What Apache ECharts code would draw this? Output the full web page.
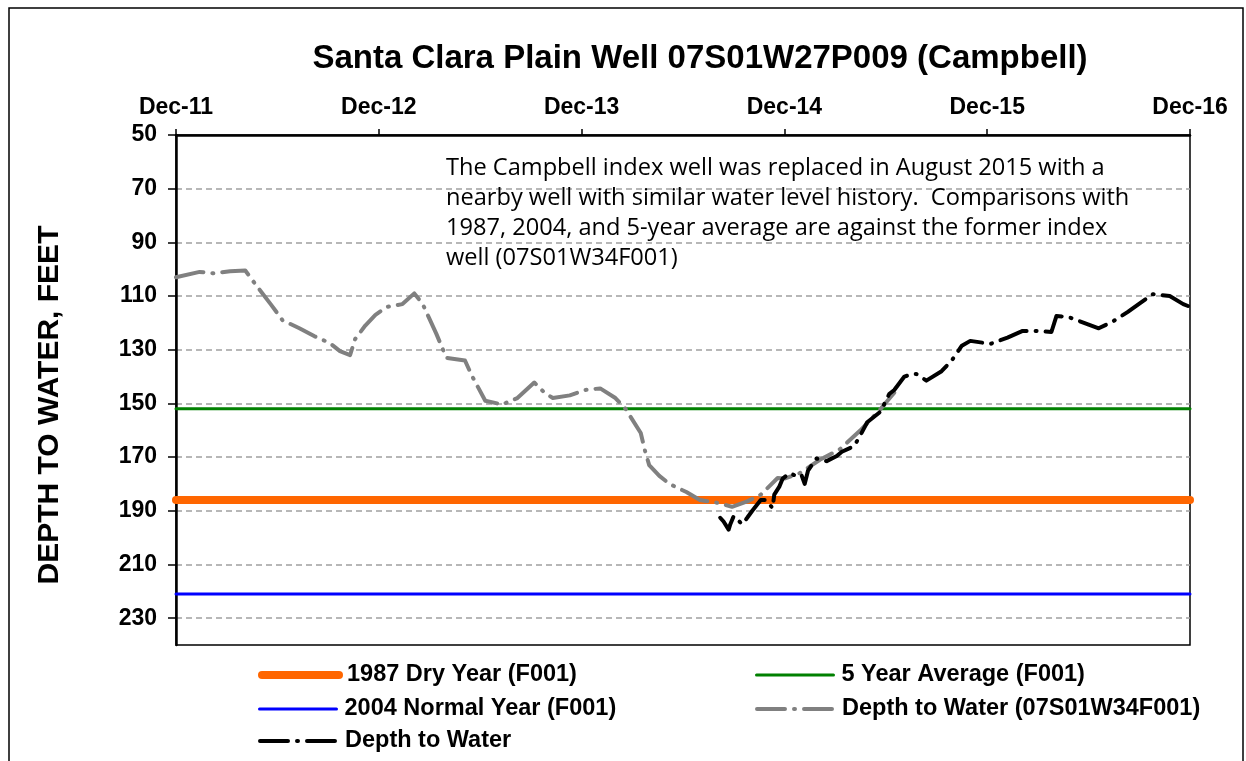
<!DOCTYPE html>
<html>
<head>
<meta charset="utf-8">
<title>Santa Clara Plain Well 07S01W27P009 (Campbell)</title>
<script src="https://cdn.jsdelivr.net/npm/echarts@6/dist/echarts.min.js"></script>
<style>
  html, body { margin: 0; padding: 0; background: #fff; }
  #chart { width: 1246px; height: 761px; }
</style>
</head>
<body>
<div id="chart"></div>
<script>
// Axis tick labels (one per December, starting Dec 2011)
const tickLabels = ['Dec-11', 'Dec-12', 'Dec-13', 'Dec-14', 'Dec-15', 'Dec-16'];
const depthTicks = [50, 70, 90, 110, 130, 150, 170, 190, 210, 230];

// Reference levels, depth in feet (former index well F001)
const dryYear1987 = 186;
const fiveYearAverage = 152;
const normalYear2004 = 221;

// Former index well 07S01W34F001: [date, depth to water (ft)]
const formerWell = [
  ['2011-12-01', 103], ['2012-01-13', 101], ['2012-02-07', 101.5], ['2012-03-07', 100.8],
  ['2012-04-04', 100.5], ['2012-04-22', 105.6], ['2012-05-19', 113], ['2012-06-10', 119],
  ['2012-07-10', 122], ['2012-08-07', 125], ['2012-09-04', 127.5], ['2012-09-22', 130.5],
  ['2012-10-10', 132], ['2012-10-19', 126], ['2012-11-07', 121], ['2012-11-25', 117],
  ['2012-12-16', 114], ['2013-01-13', 113], ['2013-02-04', 109], ['2013-02-19', 113],
  ['2013-03-01', 118.5], ['2013-03-13', 124], ['2013-04-01', 133], ['2013-05-04', 134],
  ['2013-05-16', 139.6], ['2013-06-10', 149], ['2013-07-10', 150.4], ['2013-08-07', 148],
  ['2013-09-07', 142.2], ['2013-09-25', 146], ['2013-10-10', 148], ['2013-11-10', 147],
  ['2013-12-07', 145], ['2014-01-04', 144.4], ['2014-02-01', 148], ['2014-02-19', 152],
  ['2014-03-16', 161], ['2014-03-24', 168], ['2014-04-01', 173], ['2014-04-19', 177],
  ['2014-05-07', 180], ['2014-06-07', 183], ['2014-07-01', 186], ['2014-08-01', 187],
  ['2014-08-28', 188.5], ['2014-09-25', 186.5], ['2014-10-19', 184], ['2014-11-19', 177.8],
  ['2014-12-01', 178], ['2014-12-28', 176], ['2015-02-04', 171], ['2015-03-10', 167],
  ['2015-04-16', 160], ['2015-05-22', 152], ['2015-06-16', 146]
];

// Current index well 07S01W27P009: [date, depth to water (ft)]
const currentWell = [
  ['2014-08-07', 192.6], ['2014-08-13', 194], ['2014-08-22', 197], ['2014-08-25', 195],
  ['2014-09-01', 192], ['2014-09-16', 195], ['2014-09-25', 192.6], ['2014-10-04', 190],
  ['2014-10-19', 186], ['2014-10-28', 186], ['2014-11-10', 189], ['2014-11-13', 184],
  ['2014-11-22', 181], ['2014-11-28', 178], ['2014-12-10', 176], ['2014-12-22', 177],
  ['2015-01-01', 176.5], ['2015-01-07', 180], ['2015-01-13', 175], ['2015-01-28', 170.5],
  ['2015-02-16', 171.5], ['2015-03-04', 169.6], ['2015-03-13', 168], ['2015-04-04', 166],
  ['2015-04-13', 163], ['2015-04-28', 157], ['2015-05-22', 153], ['2015-06-01', 149],
  ['2015-06-07', 146.5], ['2015-06-16', 145], ['2015-07-04', 140], ['2015-07-19', 139],
  ['2015-07-25', 139], ['2015-08-13', 141.5], ['2015-09-10', 138], ['2015-09-28', 134],
  ['2015-10-16', 128.5], ['2015-11-01', 126.7], ['2015-12-07', 127.8], ['2016-01-07', 125.5],
  ['2016-02-04', 123], ['2016-02-28', 123], ['2016-03-25', 123.4], ['2016-04-04', 117.4],
  ['2016-04-25', 117.8], ['2016-06-19', 122], ['2016-07-13', 119.6], ['2016-08-10', 116],
  ['2016-09-25', 109.3], ['2016-10-25', 110], ['2016-11-19', 113], ['2016-12-01', 114]
];

// Months elapsed since 1 Dec 2011, used as the x value
function monthsSinceStart(dateStr) {
  const [y, m, d] = dateStr.split('-').map(Number);
  return (y - 2011) * 12 + (m - 12) + (d - 1) / 30;
}
const toPoints = rows => rows.map(([date, depth]) => [monthsSinceStart(date), depth]);
const xMax = (tickLabels.length - 1) * 12;
const flatLine = level => [[0, level], [xMax, level]];

const boldFont = 'Liberation Sans, Arial, sans-serif';
const dashDot = [28, 9, 1, 9];

// Series styling, shared by the plotted lines and their legend keys
const styles = {
  '1987 Dry Year (F001)': { color: '#FF6600', width: 8, type: 'solid' },
  '5 Year Average (F001)': { color: '#008000', width: 3, type: 'solid' },
  '2004 Normal Year (F001)': { color: '#0000FF', width: 3, type: 'solid' },
  'Depth to Water (07S01W34F001)': { color: '#808080', width: 4, type: dashDot },
  'Depth to Water': { color: '#000000', width: 4, type: dashDot }
};

// One legend block per key so the two-column layout stays fixed
function legendEntry(name, left, rowCenter) {
  const s = styles[name];
  return {
    left: left, top: rowCenter - 13, padding: 0,
    itemWidth: 77, itemHeight: 14,
    itemStyle: { opacity: 0 },
    lineStyle: { color: s.color, width: s.width, type: s.type, cap: 'round' },
    textStyle: { fontFamily: boldFont, fontWeight: 'bold', fontSize: 23.5, color: '#000', padding: [0, 0, 0, 3] },
    data: [name]
  };
}

function lineSeries(name, data, z) {
  const s = styles[name];
  return {
    name: name, type: 'line', showSymbol: false, symbol: 'none', data: data, z: z,
    lineStyle: { color: s.color, width: s.width, type: s.type, cap: 'round', join: 'round' },
    itemStyle: { color: s.color }
  };
}

const chart = echarts.init(document.getElementById('chart'), null, { renderer: 'canvas' });

chart.setOption({
  animation: false,
  backgroundColor: '#fff',
  title: {
    text: 'Santa Clara Plain Well 07S01W27P009 (Campbell)',
    left: 695,
    top: 37,
    textAlign: 'center',
    textStyle: { fontFamily: boldFont, fontWeight: 'bold', fontSize: 33, color: '#000' }
  },
  grid: {
    left: 176, top: 135, right: 56, bottom: 116,
    show: true, borderColor: '#000', borderWidth: 1.5, backgroundColor: 'transparent'
  },
  xAxis: {
    type: 'value',
    position: 'top',
    min: 0, max: xMax, interval: 12,
    axisLine: { show: true, lineStyle: { color: '#000', width: 2.5 } },
    axisTick: { show: true, inside: false, length: 6, lineStyle: { color: '#000', width: 1.5 } },
    splitLine: { show: false },
    axisLabel: {
      margin: 16,
      fontFamily: boldFont, fontWeight: 'bold', fontSize: 23, color: '#000',
      formatter: v => tickLabels[Math.round(v / 12)]
    }
  },
  yAxis: {
    type: 'value',
    inverse: true,
    min: 50, max: 240, interval: 20,
    axisLine: { show: true, lineStyle: { color: '#000', width: 2.5 } },
    axisTick: {
      show: true, inside: false, length: 8, customValues: depthTicks,
      lineStyle: { color: '#000', width: 1.5 }
    },
    axisLabel: {
      margin: 19, customValues: depthTicks,
      fontFamily: boldFont, fontWeight: 'bold', fontSize: 23, color: '#000'
    },
    splitLine: {
      show: true, showMinLine: false,
      lineStyle: { color: '#A0A0A0', width: 1.5, type: [6, 4] }
    }
  },
  legend: [
    legendEntry('1987 Dry Year (F001)', 258, 676),
    legendEntry('2004 Normal Year (F001)', 258, 710),
    legendEntry('Depth to Water', 258, 742),
    legendEntry('5 Year Average (F001)', 755, 676),
    legendEntry('Depth to Water (07S01W34F001)', 755, 710)
  ],
  graphic: [
    {
      type: 'rect', silent: true, z: 0,
      shape: { x: 9, y: 8, width: 1234, height: 800 },
      style: { fill: 'none', stroke: '#000', lineWidth: 1.5 }
    },
    {
      type: 'text', x: 50, y: 405, rotation: Math.PI / 2,
      style: {
        text: 'DEPTH TO WATER, FEET',
        fontFamily: boldFont, fontWeight: 'bold', fontSize: 30, fill: '#000',
        textAlign: 'center', textVerticalAlign: 'middle'
      }
    },
    {
      type: 'text', x: 446, y: 153, z: 10,
      style: {
        text: 'The Campbell index well was replaced in August 2015 with a\n' +
              'nearby well with similar water level history.  Comparisons with\n' +
              '1987, 2004, and 5-year average are against the former index\n' +
              'well (07S01W34F001)',
        fontFamily: 'Open Sans, Lato, sans-serif', fontSize: 23.6, lineHeight: 30, fill: '#000',
        textAlign: 'left', textVerticalAlign: 'top'
      }
    }
  ],
  series: [
    lineSeries('1987 Dry Year (F001)', flatLine(dryYear1987), 2),
    lineSeries('5 Year Average (F001)', flatLine(fiveYearAverage), 2),
    lineSeries('2004 Normal Year (F001)', flatLine(normalYear2004), 2),
    lineSeries('Depth to Water (07S01W34F001)', toPoints(formerWell), 3),
    lineSeries('Depth to Water', toPoints(currentWell), 4)
  ]
});
</script>
</body>
</html>
